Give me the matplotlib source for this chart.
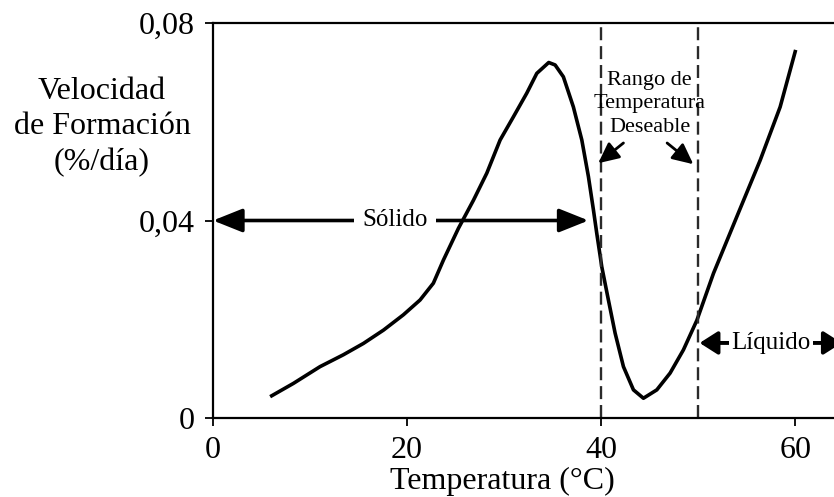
import matplotlib
matplotlib.use("Agg")
import matplotlib.pyplot as plt

plt.rcParams['font.family'] = ['Liberation Serif', 'DejaVu Serif']

temp = [6.05, 8.28, 11.03, 13.43, 15.5, 17.57, 19.62, 21.34, 22.71, 23.75, 25.29,
        26.84, 28.22, 29.59, 30.96, 32.34, 33.37, 34.6, 35.26, 36.11, 37.14, 38.01,
        38.69, 39.21, 39.55, 40.07, 40.75, 41.44, 42.3, 43.33, 44.36, 45.74, 47.11,
        48.48, 49.87, 51.58, 53.99, 56.39, 58.45, 60.0]
vel = [0.0045, 0.0070, 0.0104, 0.0128, 0.0151, 0.0178, 0.0209, 0.0239, 0.0273,
       0.0320, 0.0384, 0.0441, 0.0496, 0.0563, 0.0610, 0.0658, 0.0698, 0.0720,
       0.0715, 0.0691, 0.0630, 0.0563, 0.0489, 0.0421, 0.0374, 0.0306, 0.0239,
       0.0172, 0.0104, 0.0057, 0.0040, 0.0057, 0.0091, 0.0138, 0.0198, 0.0293,
       0.0408, 0.0522, 0.0630, 0.0742]

xticks = [0, 20, 40, 60]
yticks = [0, 0.04, 0.08]
yticklabels = ['0', '0,04', '0,08']
range_bounds = [40, 50]

fig = plt.figure(figsize=(8.34, 4.97), dpi=100)
ax = fig.add_axes([213/834, 79/497, 1 - 213/834, 395/497])

ax.plot(temp, vel, color='black', lw=2.6, solid_joinstyle='round')
for b in range_bounds:
    ax.axvline(b, color='#2a2a2a', lw=1.7, ls=(0, (5.5, 2.5)))

ax.set_xlim(0, 64)
ax.set_ylim(0, 0.08)
ax.set_xticks(xticks)
ax.set_xticklabels([str(t) for t in xticks])
ax.set_yticks(yticks)
ax.set_yticklabels(yticklabels)
ax.tick_params(axis='both', direction='out', length=6, width=1.3, labelsize=23,
               colors='black')
ax.tick_params(axis='y', pad=7)
ax.tick_params(axis='x', pad=7)
for s in ['left', 'bottom', 'top']:
    ax.spines[s].set_linewidth(1.6)
ax.spines['right'].set_visible(False)

fig.text(502/834, 1 - 481/497, 'Temperatura (°C)', ha='center', va='center',
         fontsize=23)
fig.text(102/834, 1 - 127/497, 'Velocidad\nde Formación\n(%/día)', ha='center',
         va='center', fontsize=23, linespacing=1.28)

# Solido arrow
ax.annotate('', xy=(0, 0.04), xytext=(38.7, 0.04),
            arrowprops=dict(arrowstyle='<|-|>,head_length=1.8,head_width=0.72',
                            color='black', lw=2.6, shrinkA=0, shrinkB=0))
ax.text(18.8, 0.04, 'Sólido', ha='center', va='center', fontsize=18,
        bbox=dict(facecolor='white', edgecolor='none', pad=6))

# Rango de temperatura
ax.text(45, 0.0636, 'Rango de\nTemperatura\nDeseable', ha='center', va='center',
        fontsize=16, linespacing=1.3)
ax.annotate('', xy=(39.7, 0.0516), xytext=(42.3, 0.0557),
            arrowprops=dict(arrowstyle='-|>,head_length=1.25,head_width=0.6',
                            color='black', lw=2.0, shrinkA=0, shrinkB=0))
ax.annotate('', xy=(49.5, 0.0514), xytext=(46.8, 0.0557),
            arrowprops=dict(arrowstyle='-|>,head_length=1.25,head_width=0.6',
                            color='black', lw=2.0, shrinkA=0, shrinkB=0))

# Liquido arrow
ax.annotate('', xy=(50.15, 0.0152), xytext=(64.8, 0.0152), annotation_clip=False,
            arrowprops=dict(arrowstyle='<|-|>,head_length=1.1,head_width=0.7',
                            color='black', lw=2.8, shrinkA=0, shrinkB=0,
                            clip_on=False))
ax.text(57.5, 0.0152, 'Líquido', ha='center', va='center', fontsize=18,
        bbox=dict(facecolor='white', edgecolor='none', pad=2))

fig.savefig('out.png', dpi=100)
